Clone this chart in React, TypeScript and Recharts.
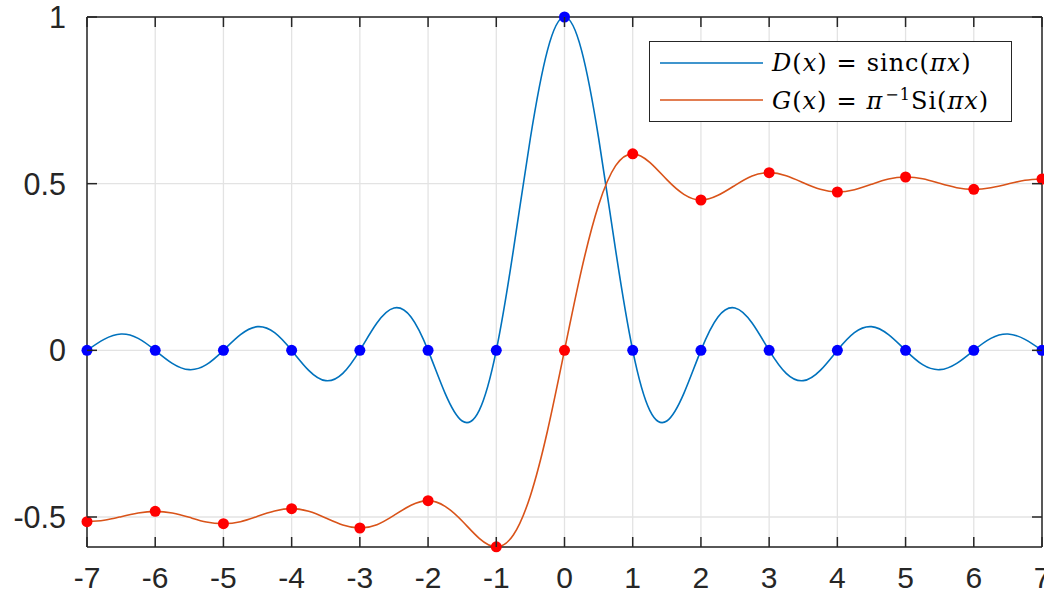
import { LineChart, Line, XAxis, YAxis, CartesianGrid, Legend } from 'recharts';

// sample positions along x (step 0.25)
const xs = [
  -7, -6.75, -6.5, -6.25, -6, -5.75, -5.5, -5.25, -5, -4.75, -4.5, -4.25, -4, -3.75, -3.5, -3.25,
  -3, -2.75, -2.5, -2.25, -2, -1.75, -1.5, -1.25, -1, -0.75, -0.5, -0.25, 0, 0.25, 0.5, 0.75,
  1, 1.25, 1.5, 1.75, 2, 2.25, 2.5, 2.75, 3, 3.25, 3.5, 3.75, 4, 4.25, 4.5, 4.75,
  5, 5.25, 5.5, 5.75, 6, 6.25, 6.5, 6.75, 7,
];

// D(x)
const dValues = [
  0, 0.033, 0.049, 0.036, 0, -0.039, -0.058, -0.043, 0, 0.047, 0.071, 0.053, 0, -0.06, -0.091, -0.069,
  0, 0.082, 0.127, 0.1, 0, -0.129, -0.212, -0.18, 0, 0.3, 0.637, 0.9, 1, 0.9, 0.637, 0.3,
  0, -0.18, -0.212, -0.129, 0, 0.1, 0.127, 0.082, 0, -0.069, -0.091, -0.06, 0, 0.053, 0.071, 0.047,
  0, -0.043, -0.058, -0.039, 0, 0.036, 0.049, 0.033, 0,
];

// G(x)
const gValues = [
  -0.514, -0.51, -0.499, -0.488, -0.483, -0.488, -0.501, -0.515, -0.52, -0.514, -0.498, -0.482, -0.475, -0.483, -0.503, -0.524,
  -0.533, -0.523, -0.495, -0.465, -0.451, -0.468, -0.512, -0.564, -0.5895, -0.554, -0.436, -0.242, 0, 0.242, 0.436, 0.554,
  0.5895, 0.564, 0.512, 0.468, 0.451, 0.465, 0.495, 0.523, 0.533, 0.524, 0.503, 0.483, 0.475, 0.482, 0.498, 0.514,
  0.52, 0.515, 0.501, 0.488, 0.483, 0.488, 0.499, 0.51, 0.514,
];

const xTicks = [-7, -6, -5, -4, -3, -2, -1, 0, 1, 2, 3, 4, 5, 6, 7];
const yTicks = [-0.5, 0, 0.5, 1];

const data = xs.map((x, i) => ({ x, d: dValues[i], g: gValues[i] }));

const AXIS = '#262626';
const TICK_FONT = '"Liberation Sans", Arial, sans-serif';

const BottomTick = (props: any) => {
  const { x, y, payload } = props;
  return (
    <g>
      <line x1={x} x2={x} y1={y} y2={y - 10} stroke={AXIS} strokeWidth={1.5} />
      <text x={x} y={y + 41} textAnchor="middle" fill={AXIS} fontFamily={TICK_FONT} fontSize={30}>
        {String(payload.value)}
      </text>
    </g>
  );
};

const TopTick = (props: any) => {
  const { x, y } = props;
  return <line x1={x} x2={x} y1={y} y2={y + 10} stroke={AXIS} strokeWidth={1.5} />;
};

const LeftTick = (props: any) => {
  const { x, y, payload } = props;
  return (
    <g>
      <line x1={x} x2={x + 10} y1={y} y2={y} stroke={AXIS} strokeWidth={1.5} />
      <text x={x - 21} y={y + 11} textAnchor="end" fill={AXIS} fontFamily={TICK_FONT} fontSize={30.5}>
        {String(payload.value)}
      </text>
    </g>
  );
};

const RightTick = (props: any) => {
  const { x, y } = props;
  return <line x1={x} x2={x - 10} y1={y} y2={y} stroke={AXIS} strokeWidth={1.5} />;
};

const makeDot = (color: string) => (props: any) => {
  const { cx, cy, payload, index } = props;
  if (!Number.isInteger(payload.x)) return <g key={`n-${index}`} />;
  return <circle key={`p-${index}`} cx={cx} cy={cy} r={5.5} fill={color} stroke="none" />;
};

const LegendRow = ({ color, children }: { color: string; children: any }) => (
  <div style={{ display: 'flex', alignItems: 'center', height: 37 }}>
    <svg width={112} height={4} style={{ marginLeft: 10, flex: 'none' }}>
      <line x1={0} x2={103} y1={2} y2={2} stroke={color} strokeWidth={1.6} />
    </svg>
    <span style={{ whiteSpace: 'nowrap', letterSpacing: 1 }}>{children}</span>
  </div>
);

const eq = <span style={{ margin: '0 9px' }}>=</span>;

const renderLegend = () => (
  <div
    style={{
      width: 363,
      height: 81,
      boxSizing: 'border-box',
      border: `1.5px solid ${AXIS}`,
      background: '#fff',
      paddingTop: 2,
      fontFamily: '"DejaVu Serif", "Liberation Serif", serif',
      fontSize: 24,
      color: '#000',
      lineHeight: 1,
    }}
  >
    <LegendRow color="#0072BD">
      <i>D</i>(<i>x</i>){eq}sinc(<i>πx</i>)
    </LegendRow>
    <LegendRow color="#D95319">
      <i>G</i>(<i>x</i>){eq}<i>π</i>
      <sup style={{ fontSize: 16, verticalAlign: 9, marginLeft: 2 }}>−1</sup>Si(<i>πx</i>)
    </LegendRow>
  </div>
);

export default function App() {
  return (
    <div style={{ position: 'absolute', left: 0, top: 0, background: '#fff' }}>
      <LineChart width={1044} height={595} data={data} margin={{ top: 16, right: 1, bottom: 0, left: 0 }}>
        <CartesianGrid stroke="#e3e3e3" strokeWidth={1.3} />
        <XAxis
          dataKey="x"
          type="number"
          domain={[-7, 7]}
          ticks={xTicks}
          interval={0}
          height={48}
          tickSize={0}
          tickMargin={0}
          tickLine={false}
          axisLine={{ stroke: AXIS, strokeWidth: 1.5 }}
          tick={<BottomTick />}
        />
        <XAxis
          xAxisId="top"
          orientation="top"
          dataKey="x"
          type="number"
          domain={[-7, 7]}
          ticks={xTicks}
          interval={0}
          height={1}
          tickSize={0}
          tickMargin={0}
          tickLine={false}
          axisLine={{ stroke: AXIS, strokeWidth: 1.5 }}
          tick={<TopTick />}
        />
        <YAxis
          type="number"
          domain={[-0.59, 1]}
          ticks={yTicks}
          interval={0}
          width={87}
          tickSize={0}
          tickMargin={0}
          tickLine={false}
          axisLine={{ stroke: AXIS, strokeWidth: 1.5 }}
          tick={<LeftTick />}
        />
        <YAxis
          yAxisId="right"
          orientation="right"
          type="number"
          domain={[-0.59, 1]}
          ticks={yTicks}
          interval={0}
          width={1}
          tickSize={0}
          tickMargin={0}
          tickLine={false}
          axisLine={{ stroke: AXIS, strokeWidth: 1.5 }}
          tick={<RightTick />}
        />
        <Legend
          layout="vertical"
          align="center"
          verticalAlign="middle"
          content={renderLegend}
          wrapperStyle={{ left: 649, top: 41, width: 363, height: 81 }}
        />
        {/* invisible series so the mirrored box axes get drawn */}
        <Line
          xAxisId="top"
          yAxisId="right"
          dataKey="d"
          stroke="none"
          dot={false}
          activeDot={false}
          legendType="none"
          isAnimationActive={false}
        />
        <Line
          type="natural"
          dataKey="d"
          name="D(x) = sinc(πx)"
          stroke="#0072BD"
          strokeWidth={1.6}
          dot={makeDot('#0000FF')}
          activeDot={false}
          isAnimationActive={false}
        />
        <Line
          type="natural"
          dataKey="g"
          name="G(x) = π^-1 Si(πx)"
          stroke="#D95319"
          strokeWidth={1.6}
          dot={makeDot('#FF0000')}
          activeDot={false}
          isAnimationActive={false}
        />
      </LineChart>
    </div>
  );
}
